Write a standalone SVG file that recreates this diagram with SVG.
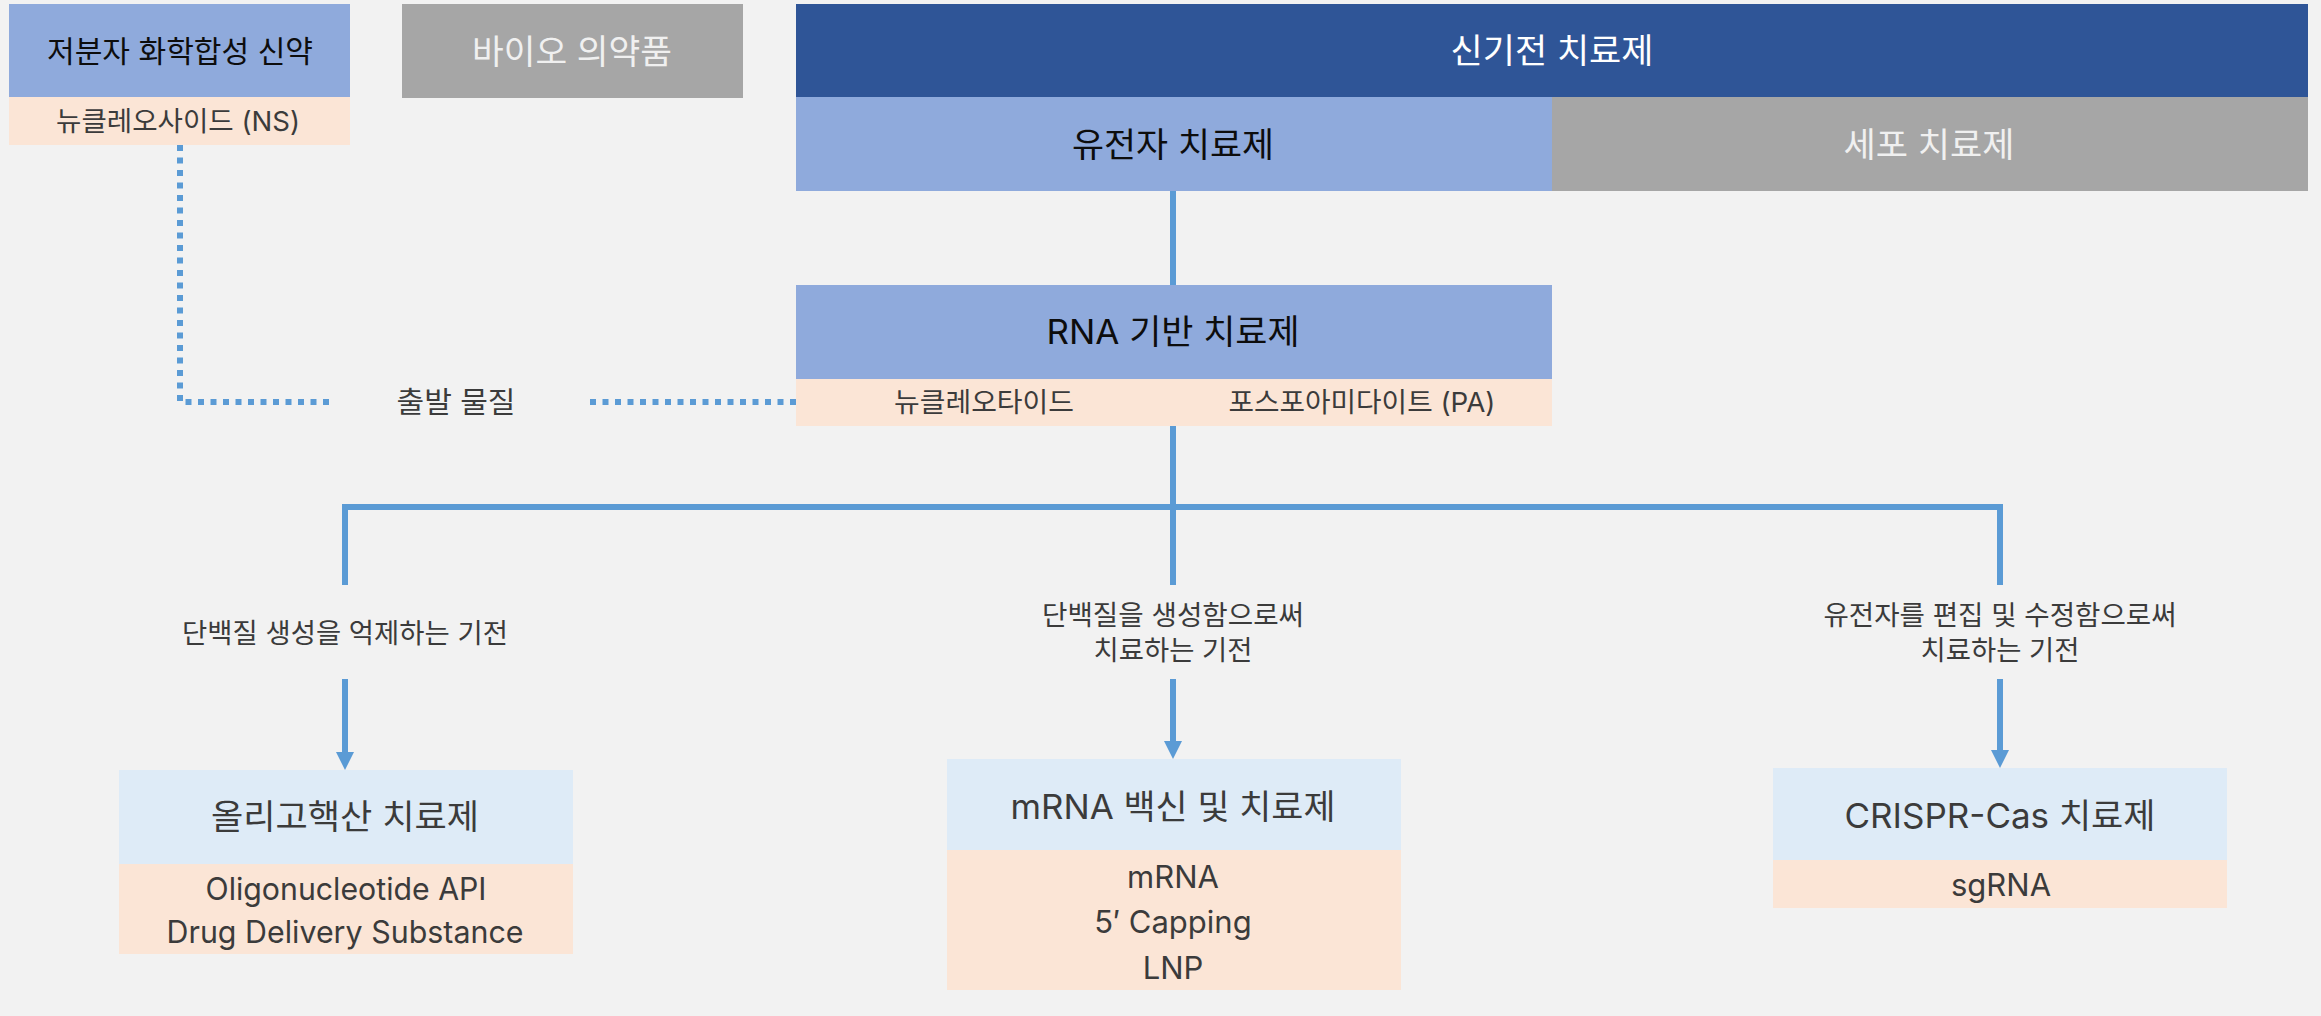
<svg xmlns="http://www.w3.org/2000/svg" width="2321" height="1016" viewBox="0 0 2321 1016">
<defs>
<style>
text{font-family:"Inter","Noto Sans CJK KR",sans-serif;text-anchor:middle;dominant-baseline:central;fill:#3b3b3b}
.t34{font-size:34.5px}
.t30{font-size:30px}
.t31{font-size:31px}
.t27{font-size:27.5px}
.blk{fill:#0d0d0d}
.wht{fill:#ffffff}
.lgt{fill:#f0f0f0}
.lb{fill:#8faadc}
.db{fill:#2f5597}
.gr{fill:#a6a6a6}
.sa{fill:#fbe5d6}
.pb{fill:#deebf7}
.ln{stroke:#5b9bd5;stroke-width:6;fill:none}
.dt{stroke:#5b9bd5;stroke-width:6;fill:none;stroke-dasharray:6 6.5}
.ah{fill:#5b9bd5}
</style>
</defs>
<rect x="0" y="0" width="2321" height="1016" fill="#f2f2f2"/>
<g id="connectors">
<path class="ln" d="M1173,191 V285"/>
<path class="ln" d="M1173,426 V585"/>
<path class="ln" d="M345,585 V507 H2000 V585"/>
<path class="ln" d="M345,679 V753"/>
<path class="ln" d="M1173,679 V742"/>
<path class="ln" d="M2000,679 V751"/>
<path class="ah" d="M336,752 L354,752 L345,770 Z"/>
<path class="ah" d="M1164,741 L1182,741 L1173,759 Z"/>
<path class="ah" d="M1991,750 L2009,750 L2000,768 Z"/>
<path class="dt" d="M180,145 V402 H329"/>
<path class="dt" d="M590,402 H796"/>
</g>
<g id="small-molecule">
<rect class="lb" x="9" y="4" width="341" height="93"/>
<rect class="sa" x="9" y="97" width="341" height="48"/>
<text class="t30 blk" x="180" y="51" textLength="266" lengthAdjust="spacingAndGlyphs">저분자 화학합성 신약</text>
<text class="t27" x="178" y="121" textLength="244" lengthAdjust="spacingAndGlyphs">뉴클레오사이드 (NS)</text>
</g>
<g id="bio">
<rect class="gr" x="402" y="4" width="341" height="94"/>
<text class="t34 lgt" x="572" y="51" textLength="200" lengthAdjust="spacingAndGlyphs">바이오 의약품</text>
</g>
<g id="new-mechanism">
<rect class="db" x="796" y="4" width="1512" height="93"/>
<text class="t34 wht" x="1552" y="50" textLength="203" lengthAdjust="spacingAndGlyphs">신기전 치료제</text>
</g>
<g id="gene-therapy">
<rect class="lb" x="796" y="97" width="756" height="94"/>
<text class="t34 blk" x="1173" y="144" textLength="202" lengthAdjust="spacingAndGlyphs">유전자 치료제</text>
</g>
<g id="cell-therapy">
<rect class="gr" x="1552" y="97" width="756" height="94"/>
<text class="t34 lgt" x="1929" y="144" textLength="171" lengthAdjust="spacingAndGlyphs">세포 치료제</text>
</g>
<g id="rna">
<rect class="lb" x="796" y="285" width="756" height="94"/>
<rect class="sa" x="796" y="379" width="756" height="47"/>
<text class="t34 blk" x="1173" y="331" textLength="253" lengthAdjust="spacingAndGlyphs">RNA 기반 치료제</text>
<text class="t27" x="984" y="402" textLength="180" lengthAdjust="spacingAndGlyphs">뉴클레오타이드</text>
<text class="t27" x="1362" y="402" textLength="267" lengthAdjust="spacingAndGlyphs">포스포아미다이트 (PA)</text>
</g>
<g id="start-material">
<text class="t27" x="456" y="402" style="font-size:29px" textLength="119" lengthAdjust="spacingAndGlyphs">출발 물질</text>
</g>
<g id="label-left">
<text class="t27" x="345" y="633" textLength="326" lengthAdjust="spacingAndGlyphs">단백질 생성을 억제하는 기전</text>
</g>
<g id="label-mid">
<text class="t27" x="1173" y="615" textLength="262" lengthAdjust="spacingAndGlyphs">단백질을 생성함으로써</text>
<text class="t27" x="1173" y="650" textLength="159" lengthAdjust="spacingAndGlyphs">치료하는 기전</text>
</g>
<g id="label-right">
<text class="t27" x="2000" y="615" textLength="353" lengthAdjust="spacingAndGlyphs">유전자를 편집 및 수정함으로써</text>
<text class="t27" x="2000" y="650" textLength="159" lengthAdjust="spacingAndGlyphs">치료하는 기전</text>
</g>
<g id="oligo">
<rect class="pb" x="119" y="770" width="454" height="94"/>
<rect class="sa" x="119" y="864" width="454" height="90"/>
<text class="t34" x="345" y="816" textLength="268" lengthAdjust="spacingAndGlyphs">올리고핵산 치료제</text>
<text class="t31" x="346" y="888" textLength="281" lengthAdjust="spacingAndGlyphs">Oligonucleotide API</text>
<text class="t31" x="345" y="931" textLength="357" lengthAdjust="spacingAndGlyphs">Drug Delivery Substance</text>
</g>
<g id="mrna">
<rect class="pb" x="947" y="759" width="454" height="91"/>
<rect class="sa" x="947" y="850" width="454" height="140"/>
<text class="t34" x="1173" y="806" textLength="325" lengthAdjust="spacingAndGlyphs">mRNA 백신 및 치료제</text>
<text class="t31" x="1173" y="876">mRNA</text>
<text class="t31" x="1173" y="921">5′ Capping</text>
<text class="t31" x="1173" y="967">LNP</text>
</g>
<g id="crispr">
<rect class="pb" x="1773" y="768" width="454" height="92"/>
<rect class="sa" x="1773" y="860" width="454" height="48"/>
<text class="t34" x="2000" y="815" textLength="311" lengthAdjust="spacingAndGlyphs">CRISPR-Cas 치료제</text>
<text class="t31" x="2001" y="884">sgRNA</text>
</g>
</svg>
